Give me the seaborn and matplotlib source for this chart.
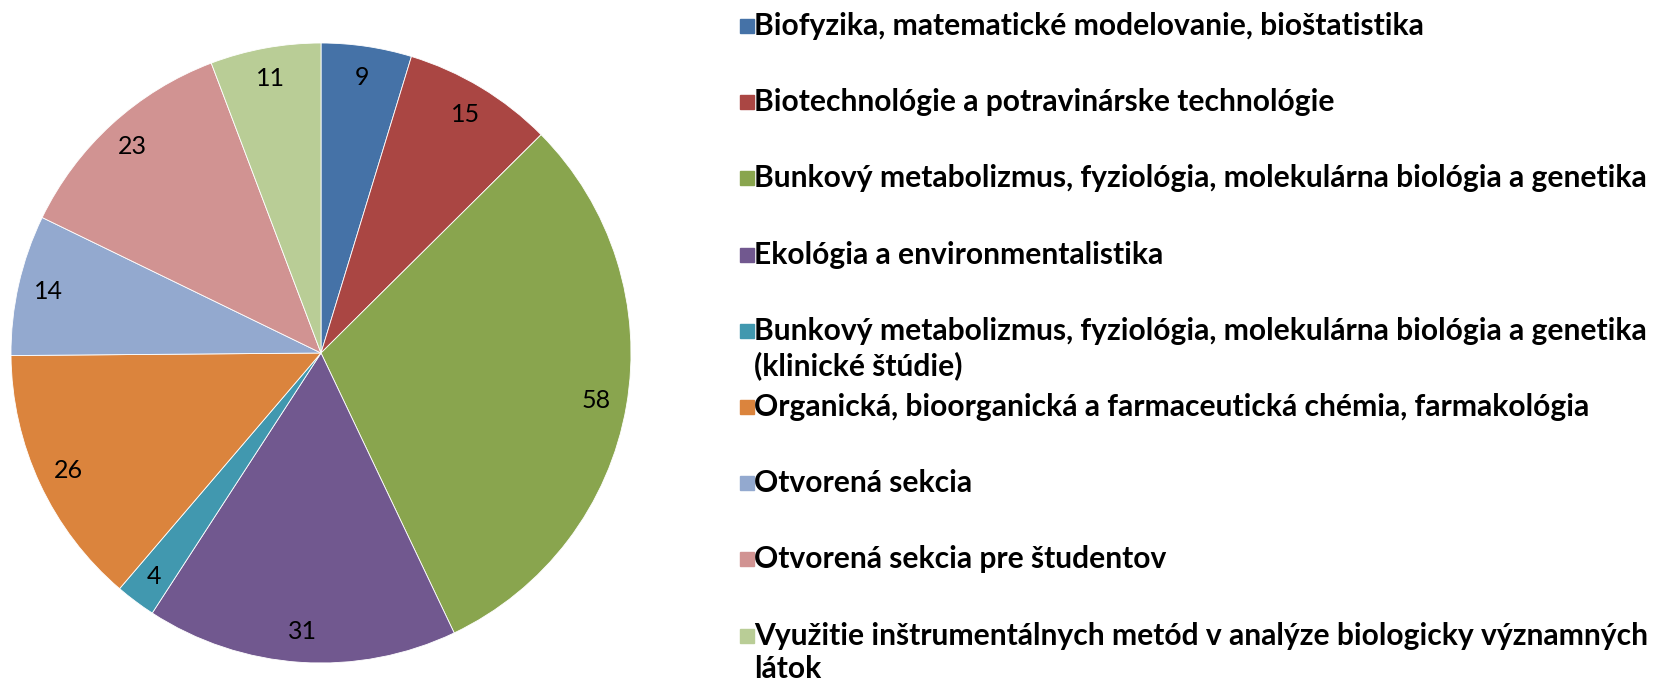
import matplotlib
matplotlib.use("Agg")
import matplotlib.pyplot as plt
import seaborn as sns
from matplotlib.patches import Rectangle

categories = [
    "Biofyzika, matematické modelovanie, bioštatistika",
    "Biotechnológie a potravinárske technológie",
    "Bunkový metabolizmus, fyziológia, molekulárna biológia a genetika",
    "Ekológia a environmentalistika",
    "Bunkový metabolizmus, fyziológia, molekulárna biológia a genetika\n(klinické štúdie)",
    "Organická, bioorganická a farmaceutická chémia, farmakológia",
    "Otvorená sekcia",
    "Otvorená sekcia pre študentov",
    "Využitie inštrumentálnych metód v analýze biologicky významných\nlátok",
]
counts = [9, 15, 58, 31, 4, 26, 14, 23, 11]
colors = ["#4572A7", "#AA4643", "#89A54E", "#71588F", "#4198AF",
          "#DB843D", "#93A9CF", "#D19392", "#B9CD96"]

sns.set_theme(style="white")
plt.rcParams["font.family"] = ["Lato", "DejaVu Sans"]
plt.rcParams["text.color"] = "black"

W, H = 1657, 685
fig = plt.figure(figsize=(W / 100, H / 100), dpi=100)

# pie: centre (321, 353) px, radius 310 px
cx, cy, r = 321, 353, 310
ax = fig.add_axes([(cx - r) / W, (H - cy - r) / H, 2 * r / W, 2 * r / H])
palette = sns.color_palette(colors)
total = sum(counts)
ax.pie(
    counts,
    colors=palette,
    startangle=90,
    counterclock=False,
    radius=1,
    autopct=lambda p: f"{round(p * total / 100):d}",
    pctdistance=0.9,
    wedgeprops={"edgecolor": "white", "linewidth": 0.6},
    textprops={"fontsize": 18, "color": "black"},
)
ax.set_xlim(-1, 1)
ax.set_ylim(-1, 1)
ax.set_aspect("equal")
ax.axis("off")

# legend drawn by hand to keep Excel-like fixed row spacing
x_box, x_text = 740, 754
y_first, step = 26, 76.2

# size the legend font so the longest line ends where the reference's does
renderer = fig.canvas.get_renderer()
probe = fig.text(0, 0, categories[2], fontsize=20, fontweight="bold")
probe_w = probe.get_window_extent(renderer).width
probe.remove()
leg_size = 20 * (1646 - x_text) / probe_w

for i, (lab, col) in enumerate(zip(categories, palette)):
    y = y_first + i * step
    fig.patches.append(Rectangle((x_box / W, (H - y - 7) / H), 14 / W, 14 / H,
                                 transform=fig.transFigure, color=col))
    fig.text(x_text / W, (H - y + 14) / H, lab, fontsize=leg_size, fontweight="bold",
             va="top", ha="left", linespacing=1.25)

fig.savefig("out.png", dpi=100)
